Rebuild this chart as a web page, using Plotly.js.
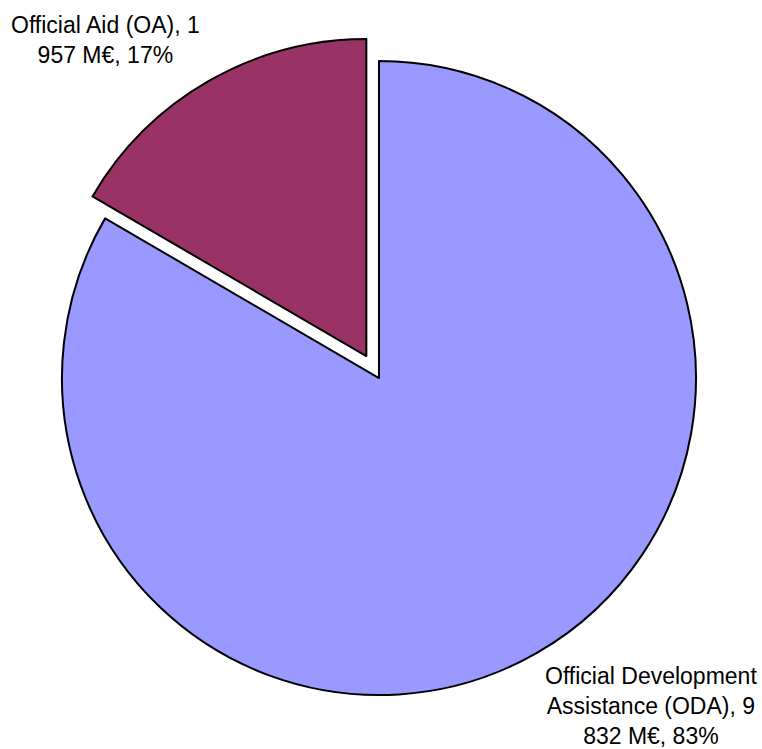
<!DOCTYPE html>
<html>
<head>
<meta charset="utf-8">
<script src="https://cdn.plot.ly/plotly-3.0.1.min.js"></script>
<style>html,body{margin:0;padding:0;background:#fff;}#chart{width:762px;height:749px;}</style>
</head>
<body>
<div id="chart"></div>
<script>
const categories = ["Official Development Assistance (ODA)", "Official Aid (OA)"];
const values = [9832, 1957];
const unit = "M€";
const colors = ["#9999FF", "#993366"];
const pulls = [0, 0.08];

const total = values.reduce((a, b) => a + b, 0);
function fmt(v) { return String(v).replace(/\B(?=(\d{3})+(?!\d))/g, " "); }
function wrap(s, n) {
  const words = s.split(" "); const lines = []; let cur = "";
  words.forEach(w => {
    if (cur && (cur + " " + w).length > n) { lines.push(cur); cur = w; }
    else cur = cur ? cur + " " + w : w;
  });
  if (cur) lines.push(cur);
  return lines.join("<br>");
}
const labelTexts = categories.map((c, i) =>
  wrap(c + ", " + fmt(values[i]) + " " + unit + ", " + Math.round(values[i] / total * 100) + "%", 20));

const trace = {
  type: "pie",
  labels: categories,
  values: values,
  sort: false,
  direction: "clockwise",
  rotation: 0,
  pull: pulls,
  marker: { colors: colors, line: { color: "#000", width: 2 } },
  textinfo: "none",
  hoverinfo: "none",
  domain: { x: [0.048, 0.9467], y: [0.0382, 0.9524] }
};

const font = { family: "Liberation Sans, Arial, sans-serif", size: 23, color: "#000" };
const annPos = [
  { x: 651 / 762, y: 1 - 706 / 749 },
  { x: 105 / 762, y: 1 - 40 / 749 }
];
const annotations = labelTexts.map((t, i) => ({
  text: t, xref: "paper", yref: "paper", x: annPos[i].x, y: annPos[i].y,
  xanchor: "center", yanchor: "middle", showarrow: false, align: "center", font: font
}));

Plotly.newPlot("chart", [trace], {
  width: 762, height: 749,
  margin: { l: 0, r: 0, t: 0, b: 0 },
  paper_bgcolor: "#fff",
  showlegend: false,
  font: font,
  annotations: annotations
}, { displayModeBar: false, staticPlot: true });
</script>
</body>
</html>
